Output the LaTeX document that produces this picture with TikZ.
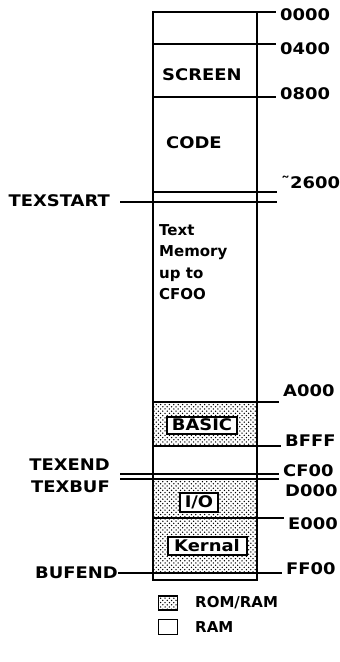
\documentclass[tikz,border=0pt]{standalone}
\usepackage{fontspec}
\newfontfamily\chic[FakeStretch=1.12]{DejaVu Sans}
\newfontfamily\chicbody{DejaVu Sans}
\usetikzlibrary{patterns, positioning}

\pgfdeclarepatternformonly{romdots}{\pgfqpoint{-1pt}{-1pt}}{\pgfqpoint{4pt}{4pt}}{\pgfqpoint{4.4pt}{4.4pt}}{%
    \pgfpathcircle{\pgfqpoint{0pt}{0pt}}{0.75pt}%
    \pgfpathcircle{\pgfqpoint{2.2pt}{2.2pt}}{0.75pt}%
    \pgfusepath{fill}}

\begin{document}
\begin{tikzpicture}[x=1pt, y=-1pt,
            lbl/.style={font=\chic\bfseries\fontsize{16}{16}\selectfont, inner sep=0pt},
            addr/.style={lbl, anchor=west},
            ptr/.style={lbl, anchor=east},
            body/.style={font=\chicbody\bfseries\fontsize{15}{21.5}\selectfont, inner sep=0pt, align=left},
            rom/.style={pattern=romdots, pattern color=black},
            tag/.style={lbl, draw, fill=white, line width=2pt, inner sep=1pt},
            bound/.style={line width=1.8pt, shorten >=4pt}
        ]
            \useasboundingbox (0,0) rectangle (340,662);

            % ROM/RAM areas
            \fill[rom] (153,402) rectangle (257,446);
            \fill[rom] (153,479) rectangle (257,573);

            % the memory column
            \draw[line width=2.4pt] (153,12) rectangle (257,580);

            % addresses on the right
            \foreach \name/\ly/\ty/\tx in {0000/12/15/280, 0400/44/49/280, 0800/97/94/280,
                    A000/402/391/283, BFFF/446/441/285, CF00/474/471/283,
                    D000/479/491/285, E000/518/524/288, FF00/573/569/286} {
                \coordinate (l\name) at (153,\ly);
                \node[addr] (a\name) at (\tx,\ty) {\name};
            }
            \coordinate (l0000) at (257,12);
            \node[addr] (a2600) at (281,182) {\char"02DC 2600};
            \coordinate (l2600) at (153,192);

            \foreach \name in {0000, 0400, 0800, A000, BFFF, E000}
                \draw[bound] (l\name) -- (l\name -| a\name.west);
            \draw[bound, shorten >=0pt] (l2600) -- (277,192);

            % pointers on the left
            \node[ptr] (texstart) at (110,201) {TEXSTART};
            \node[ptr] (texend) at (110,465) {TEXEND};
            \node[ptr] (texbuf) at (110,487) {TEXBUF};
            \node[ptr] (bufend) at (118,573) {BUFEND};
            \coordinate (ts) at (120,202);
            \coordinate (te) at (120,474);
            \coordinate (tb) at (120,479);
            \draw[bound, shorten >=0pt] (ts) -- (277,202);
            \draw[bound] (te) -- (te -| aCF00.west);
            \draw[bound] (tb) -- (tb -| aCF00.west);
            \draw[bound] (bufend.east) -- (bufend.east -| aFF00.west);

            % region names
            \node[lbl, anchor=west] (screen) at (162,75) {SCREEN};
            \node[lbl, anchor=west] (code) at (166,143) {CODE};
            \node[body, anchor=north west] (textmem) at (159,224) {Text\\Memory\\up to\\CFOO};
            \node[tag, minimum width=70pt, minimum height=17pt] (basic) at (202,425) {BASIC};
            \node[tag, minimum width=38pt, minimum height=19pt] (io) at (199,502) {I/O};
            \node[tag, minimum width=79pt, minimum height=18pt] (kernal) at (207,546) {Kernal};

            % key
            \node[draw, rom, line width=1.6pt, minimum width=19pt, minimum height=14pt, inner sep=0pt] (keyrom) at (168,603) {};
            \node[draw, line width=1.6pt, minimum width=19pt, minimum height=15pt, inner sep=0pt, below=8pt of keyrom] (keyram) {};
            \node[body, anchor=west] (romram) at (195,603) {ROM/RAM};
            \node[body, anchor=west] (ram) at (195,0 |- keyram) {RAM};
        \end{tikzpicture}
\end{document}
